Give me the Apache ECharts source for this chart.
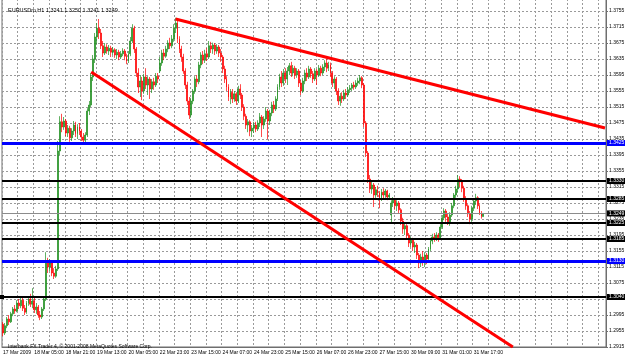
<!DOCTYPE html>
<html>
<head>
<meta charset="utf-8">
<script src="https://cdn.jsdelivr.net/npm/echarts@6/dist/echarts.min.js"></script>
<style>
html, body { margin: 0; padding: 0; background: #fff; }
#chart { width: 625px; height: 358px; }
</style>
</head>
<body>
<div id="chart"></div>
<script>
// EURUSDm H1 bars, one row per hour: [open, close, low, high]
const mar17 = [
  [1.2972,1.2950,1.2942,1.2978],[1.2950,1.2968,1.2945,1.2975],[1.2968,1.2985,1.2962,1.2990],
  [1.2985,1.2978,1.2970,1.2995],[1.2978,1.2998,1.2975,1.3003],[1.2998,1.3010,1.2992,1.3015],
  [1.3010,1.3005,1.2998,1.3020],[1.3005,1.3025,1.3002,1.3032],[1.3025,1.3018,1.3010,1.3035],
  [1.3018,1.3032,1.3012,1.3040],[1.3032,1.3012,1.3005,1.3038]
]
const mar18 = [
  [1.3012,1.3002,1.2995,1.3020],[1.3002,1.3025,1.2998,1.3030],[1.3025,1.3035,1.3018,1.3042],
  [1.3035,1.3022,1.3015,1.3048],[1.3022,1.3030,1.3012,1.3062],[1.3030,1.3008,1.3000,1.3040],
  [1.3008,1.3015,1.2998,1.3025],[1.3015,1.2995,1.2988,1.3020],[1.2995,1.2990,1.2982,1.3005],
  [1.2990,1.3010,1.2985,1.3015],[1.3010,1.3035,1.3005,1.3040],[1.3035,1.3128,1.3030,1.3152],
  [1.3128,1.3115,1.3100,1.3138],[1.3115,1.3125,1.3105,1.3135],[1.3125,1.3100,1.3092,1.3130],
  [1.3100,1.3092,1.3085,1.3112],[1.3092,1.3110,1.3088,1.3118],[1.3110,1.3405,1.3105,1.3430],
  [1.3405,1.3478,1.3395,1.3492],[1.3478,1.3465,1.3452,1.3498],[1.3465,1.3480,1.3458,1.3490],
  [1.3480,1.3450,1.3442,1.3485],[1.3450,1.3462,1.3440,1.3470],[1.3462,1.3438,1.3428,1.3468]
]
const mar19 = [
  [1.3438,1.3455,1.3430,1.3462],[1.3455,1.3470,1.3445,1.3480],[1.3470,1.3448,1.3440,1.3478],
  [1.3448,1.3465,1.3435,1.3472],[1.3465,1.3455,1.3445,1.3475],[1.3455,1.3440,1.3430,1.3460],
  [1.3440,1.3432,1.3425,1.3450],[1.3432,1.3445,1.3425,1.3452],[1.3445,1.3505,1.3440,1.3512],
  [1.3505,1.3520,1.3495,1.3530],[1.3520,1.3590,1.3515,1.3600],[1.3590,1.3635,1.3580,1.3645],
  [1.3635,1.3690,1.3625,1.3700],[1.3690,1.3712,1.3672,1.3725],[1.3712,1.3700,1.3685,1.3735],
  [1.3700,1.3668,1.3660,1.3710],[1.3668,1.3650,1.3640,1.3680],[1.3650,1.3665,1.3645,1.3675],
  [1.3665,1.3655,1.3648,1.3672],[1.3655,1.3662,1.3645,1.3670],[1.3662,1.3652,1.3640,1.3668],
  [1.3652,1.3658,1.3645,1.3665],[1.3658,1.3645,1.3638,1.3662],[1.3645,1.3652,1.3635,1.3660]
]
const mar20 = [
  [1.3652,1.3640,1.3632,1.3658],[1.3640,1.3648,1.3635,1.3655],[1.3648,1.3655,1.3642,1.3662],
  [1.3655,1.3642,1.3632,1.3660],[1.3642,1.3630,1.3622,1.3648],[1.3630,1.3648,1.3625,1.3655],
  [1.3648,1.3680,1.3642,1.3690],[1.3680,1.3712,1.3675,1.3722],[1.3712,1.3660,1.3650,1.3718],
  [1.3660,1.3600,1.3590,1.3665],[1.3600,1.3565,1.3550,1.3612],[1.3565,1.3580,1.3540,1.3595],
  [1.3580,1.3555,1.3532,1.3590],[1.3555,1.3590,1.3548,1.3598],[1.3590,1.3570,1.3560,1.3612],
  [1.3570,1.3585,1.3545,1.3592],[1.3585,1.3560,1.3535,1.3590],[1.3560,1.3578,1.3550,1.3585],
  [1.3578,1.3570,1.3558,1.3588],[1.3570,1.3592,1.3565,1.3600],[1.3592,1.3585,1.3575,1.3600]
]
const mar22 = [
  [1.3605,1.3625,1.3600,1.3640]
]
const mar23 = [
  [1.3625,1.3650,1.3618,1.3658],[1.3650,1.3642,1.3632,1.3660],[1.3642,1.3660,1.3638,1.3668],
  [1.3660,1.3675,1.3652,1.3682],[1.3675,1.3668,1.3660,1.3688],[1.3668,1.3685,1.3662,1.3695],
  [1.3685,1.3712,1.3678,1.3722],[1.3712,1.3725,1.3700,1.3738],[1.3725,1.3685,1.3675,1.3730],
  [1.3685,1.3660,1.3650,1.3692],[1.3660,1.3640,1.3628,1.3668],[1.3640,1.3605,1.3598,1.3648],
  [1.3605,1.3570,1.3560,1.3612],[1.3570,1.3530,1.3520,1.3578],[1.3530,1.3495,1.3485,1.3540],
  [1.3495,1.3530,1.3488,1.3538],[1.3530,1.3555,1.3522,1.3560],[1.3555,1.3585,1.3548,1.3592],
  [1.3585,1.3578,1.3565,1.3595],[1.3578,1.3620,1.3572,1.3628],[1.3620,1.3645,1.3612,1.3652],
  [1.3645,1.3632,1.3622,1.3655],[1.3632,1.3648,1.3625,1.3658],[1.3648,1.3640,1.3630,1.3662]
]
const mar24 = [
  [1.3640,1.3668,1.3635,1.3680],[1.3668,1.3660,1.3650,1.3678],[1.3660,1.3670,1.3648,1.3676],
  [1.3670,1.3655,1.3645,1.3675],[1.3655,1.3665,1.3648,1.3672],[1.3665,1.3650,1.3640,1.3670],
  [1.3650,1.3640,1.3628,1.3660],[1.3640,1.3610,1.3600,1.3645],[1.3610,1.3585,1.3575,1.3618],
  [1.3585,1.3565,1.3555,1.3592],[1.3565,1.3540,1.3530,1.3572],[1.3540,1.3552,1.3522,1.3560],
  [1.3552,1.3535,1.3525,1.3560],[1.3535,1.3548,1.3528,1.3555],[1.3548,1.3530,1.3520,1.3552],
  [1.3530,1.3560,1.3525,1.3568],[1.3560,1.3545,1.3535,1.3572],[1.3545,1.3515,1.3505,1.3550],
  [1.3515,1.3492,1.3482,1.3522],[1.3492,1.3470,1.3460,1.3498],[1.3470,1.3478,1.3452,1.3485],
  [1.3478,1.3455,1.3442,1.3482],[1.3455,1.3462,1.3440,1.3470],[1.3462,1.3470,1.3450,1.3478]
]
const mar25 = [
  [1.3470,1.3460,1.3452,1.3478],[1.3460,1.3475,1.3455,1.3482],[1.3475,1.3490,1.3465,1.3500],
  [1.3490,1.3470,1.3440,1.3495],[1.3470,1.3485,1.3460,1.3492],[1.3485,1.3505,1.3478,1.3515],
  [1.3505,1.3480,1.3435,1.3510],[1.3480,1.3500,1.3470,1.3508],[1.3500,1.3520,1.3492,1.3528],
  [1.3520,1.3510,1.3500,1.3530],[1.3510,1.3535,1.3505,1.3542],[1.3535,1.3565,1.3530,1.3572],
  [1.3565,1.3590,1.3558,1.3598],[1.3590,1.3575,1.3565,1.3605],[1.3575,1.3600,1.3568,1.3610],
  [1.3600,1.3585,1.3575,1.3612],[1.3585,1.3605,1.3570,1.3615],[1.3605,1.3618,1.3595,1.3625],
  [1.3618,1.3600,1.3590,1.3628],[1.3600,1.3612,1.3592,1.3620],[1.3612,1.3595,1.3585,1.3618],
  [1.3595,1.3605,1.3588,1.3612],[1.3605,1.3575,1.3565,1.3610],[1.3575,1.3555,1.3545,1.3582]
]
const mar26 = [
  [1.3555,1.3580,1.3550,1.3588],[1.3580,1.3600,1.3572,1.3608],[1.3600,1.3590,1.3580,1.3612],
  [1.3590,1.3610,1.3585,1.3618],[1.3610,1.3598,1.3588,1.3615],[1.3598,1.3585,1.3575,1.3605],
  [1.3585,1.3605,1.3580,1.3612],[1.3605,1.3595,1.3570,1.3610],[1.3595,1.3612,1.3590,1.3620],
  [1.3612,1.3600,1.3592,1.3618],[1.3600,1.3615,1.3595,1.3622],[1.3615,1.3625,1.3605,1.3632],
  [1.3625,1.3612,1.3602,1.3635],[1.3612,1.3620,1.3605,1.3628],[1.3620,1.3600,1.3590,1.3626],
  [1.3600,1.3575,1.3565,1.3605],[1.3575,1.3585,1.3560,1.3592],[1.3585,1.3555,1.3545,1.3590],
  [1.3555,1.3530,1.3520,1.3562],[1.3530,1.3542,1.3518,1.3550],[1.3542,1.3535,1.3525,1.3552],
  [1.3535,1.3550,1.3530,1.3558],[1.3550,1.3545,1.3535,1.3560],[1.3545,1.3558,1.3540,1.3565]
]
const mar27 = [
  [1.3558,1.3562,1.3550,1.3570],[1.3562,1.3570,1.3555,1.3575],[1.3570,1.3565,1.3558,1.3578],
  [1.3565,1.3575,1.3560,1.3582],[1.3575,1.3580,1.3568,1.3588],[1.3580,1.3588,1.3572,1.3595],
  [1.3588,1.3570,1.3562,1.3592],[1.3570,1.3475,1.3465,1.3575],[1.3475,1.3400,1.3390,1.3480],
  [1.3400,1.3335,1.3325,1.3405],[1.3335,1.3310,1.3300,1.3345],[1.3310,1.3320,1.3298,1.3330],
  [1.3320,1.3295,1.3265,1.3325],[1.3295,1.3308,1.3288,1.3315],[1.3308,1.3300,1.3290,1.3318],
  [1.3300,1.3288,1.3262,1.3305],[1.3288,1.3302,1.3280,1.3310],[1.3302,1.3295,1.3285,1.3312],
  [1.3295,1.3305,1.3288,1.3310],[1.3305,1.3290,1.3282,1.3308],[1.3290,1.3295,1.3285,1.3300]
]
const mar29 = [
  [1.3245,1.3275,1.3225,1.3282]
]
const mar30 = [
  [1.3275,1.3282,1.3265,1.3290],[1.3282,1.3268,1.3258,1.3288],[1.3268,1.3275,1.3255,1.3282],
  [1.3275,1.3258,1.3248,1.3280],[1.3258,1.3230,1.3220,1.3262],[1.3230,1.3210,1.3198,1.3238],
  [1.3210,1.3218,1.3195,1.3225],[1.3218,1.3195,1.3185,1.3222],[1.3195,1.3175,1.3165,1.3200],
  [1.3175,1.3182,1.3165,1.3190],[1.3182,1.3165,1.3155,1.3188],[1.3165,1.3170,1.3150,1.3178],
  [1.3170,1.3145,1.3135,1.3175],[1.3145,1.3125,1.3112,1.3150],[1.3125,1.3140,1.3115,1.3148],
  [1.3140,1.3130,1.3118,1.3155],[1.3130,1.3145,1.3115,1.3152],[1.3145,1.3135,1.3122,1.3150],
  [1.3135,1.3160,1.3130,1.3165],[1.3160,1.3180,1.3155,1.3188],[1.3180,1.3190,1.3172,1.3198],
  [1.3190,1.3185,1.3178,1.3200],[1.3185,1.3195,1.3180,1.3202],[1.3195,1.3188,1.3178,1.3200]
]
const mar31 = [
  [1.3188,1.3215,1.3185,1.3222],[1.3215,1.3238,1.3210,1.3245],[1.3238,1.3255,1.3232,1.3262],
  [1.3255,1.3240,1.3228,1.3260],[1.3240,1.3228,1.3220,1.3248],[1.3228,1.3245,1.3218,1.3252],
  [1.3245,1.3268,1.3240,1.3275],[1.3268,1.3295,1.3262,1.3300],[1.3295,1.3310,1.3288,1.3318],
  [1.3310,1.3335,1.3302,1.3345],[1.3335,1.3328,1.3315,1.3342],[1.3328,1.3312,1.3302,1.3335],
  [1.3312,1.3285,1.3278,1.3318],[1.3285,1.3268,1.3258,1.3292],[1.3268,1.3248,1.3240,1.3272],
  [1.3248,1.3235,1.3222,1.3255],[1.3235,1.3262,1.3228,1.3268],[1.3262,1.3280,1.3255,1.3285],
  [1.3280,1.3288,1.3270,1.3298],[1.3288,1.3268,1.3260,1.3292],[1.3268,1.3250,1.3245,1.3272],
  [1.3250,1.3241,1.3236,1.3255],[1.3241,1.3249,1.3241,1.3250]
]

// time labels, one every 16 bars
const timeLabels = ['17 Mar 2009', '18 Mar 05:00', '18 Mar 21:00', '19 Mar 13:00', '20 Mar 05:00',
  '22 Mar 23:00', '23 Mar 15:00', '24 Mar 07:00', '24 Mar 23:00', '25 Mar 15:00', '26 Mar 07:00',
  '26 Mar 23:00', '27 Mar 15:00', '30 Mar 09:00', '31 Mar 01:00', '31 Mar 17:00']

// horizontal levels
const blueLevels = [1.3425, 1.3130]
const blackLevels = [1.3330, 1.3285, 1.3225, 1.3185]
const arrowLevel = 1.3040
const bidPrice = 1.3249

// trend lines: [bar index, price] start and end
const upperTrend = [[88, 1.3735], [307, 1.34625]]
const lowerTrend = [[45, 1.36025], [260, 1.2915]]

const header = 'EURUSDm,H1 1.3241 1.3250 1.3241 1.3249'
const footer = 'Interbank FX Trader 4, © 2001-2008 MetaQuotes Software Corp.'

const bars = [].concat(mar17, mar18, mar19, mar20, mar22, mar23, mar24, mar25, mar26, mar27, mar29, mar30, mar31)
const slots = 308 // chart keeps empty space to the right
const categories = []
for (let i = 0; i < slots; i++) categories.push('b' + i)

const fontFamily = 'Liberation Sans'

function levelLine(value, color, width, bg) {
	return {
		yAxis: value,
		lineStyle: { color: color, width: width, type: 'solid' },
		label: {
			show: true,
			position: 'end',
			distance: 1,
			formatter: value.toFixed(4),
			color: '#fff',
			backgroundColor: bg,
			fontSize: 5,
			fontFamily: fontFamily,
			padding: [1, 2, 0, 2]
		}
	}
}

const markData = []
blueLevels.forEach(v => markData.push(levelLine(v, '#0000ff', 3, '#0000ff')))
blackLevels.forEach(v => markData.push(levelLine(v, '#000', 2, '#000')))
const arrowLine = levelLine(arrowLevel, '#000', 2, '#000')
arrowLine.symbol = 'rect'
arrowLine.symbolSize = 4
markData.push(arrowLine)
markData.push(levelLine(bidPrice, '#8c8c8c', 1, '#000'))
;[upperTrend, lowerTrend].forEach(t => {
	markData.push([
		{ coord: t[0], lineStyle: { color: '#ff0000', width: 3, type: 'solid' }, label: { show: false } },
		{ coord: t[1] }
	])
})

const chart = echarts.init(document.getElementById('chart'), null, { renderer: 'canvas' })

chart.setOption({
	animation: false,
	backgroundColor: '#fff',
	title: [{
		text: header,
		left: 3, top: 2,
		textStyle: { fontSize: 5.5, fontWeight: 'normal', color: '#000', fontFamily: fontFamily }
	}, {
		text: footer,
		left: 3, top: 339,
		textStyle: { fontSize: 5, fontWeight: 'normal', color: '#000', fontFamily: fontFamily }
	}],
	grid: {
		left: 2, right: 19, top: -5, bottom: 11,
		containLabel: false,
		outerBoundsMode: 'none',
		show: true,
		borderColor: '#6e6e6e',
		borderWidth: 1,
		backgroundColor: 'transparent'
	},
	xAxis: {
		type: 'category',
		data: categories,
		boundaryGap: true,
		axisLine: { show: true, lineStyle: { color: '#6e6e6e', width: 1 } },
		axisTick: { show: false },
		axisLabel: {
			interval: 15,
			showMinLabel: true,
			hideOverlap: false,
			align: 'left',
			margin: 3,
			fontSize: 5,
			fontFamily: fontFamily,
			color: '#000',
			formatter: (v, i) => timeLabels[i / 16] || ''
		},
		splitLine: { show: true, interval: 7, lineStyle: { color: '#9a9a9a', type: [2, 2], width: 1 } }
	},
	yAxis: {
		type: 'value',
		position: 'right',
		min: 1.2915,
		max: 1.3795,
		interval: 0.004,
		axisLine: { show: true, lineStyle: { color: '#6e6e6e', width: 1 } },
		axisTick: { show: true, length: 2, lineStyle: { color: '#6e6e6e' } },
		axisLabel: {
			margin: 3,
			fontSize: 5,
			fontFamily: fontFamily,
			color: '#000',
			formatter: v => v.toFixed(4)
		},
		splitLine: { show: true, lineStyle: { color: '#9a9a9a', type: [2, 2], width: 1 } }
	},
	series: [{
		type: 'candlestick',
		data: bars,
		barWidth: 1.4,
		itemStyle: {
			color: '#1f8f1f',
			color0: '#ff0000',
			borderColor: '#1f8f1f',
			borderColor0: '#ff0000',
			borderWidth: 0.7
		},
		markLine: {
			silent: true,
			precision: 5,
			symbol: ['none', 'none'],
			animation: false,
			data: markData
		}
	}]
})
</script>
</body>
</html>
